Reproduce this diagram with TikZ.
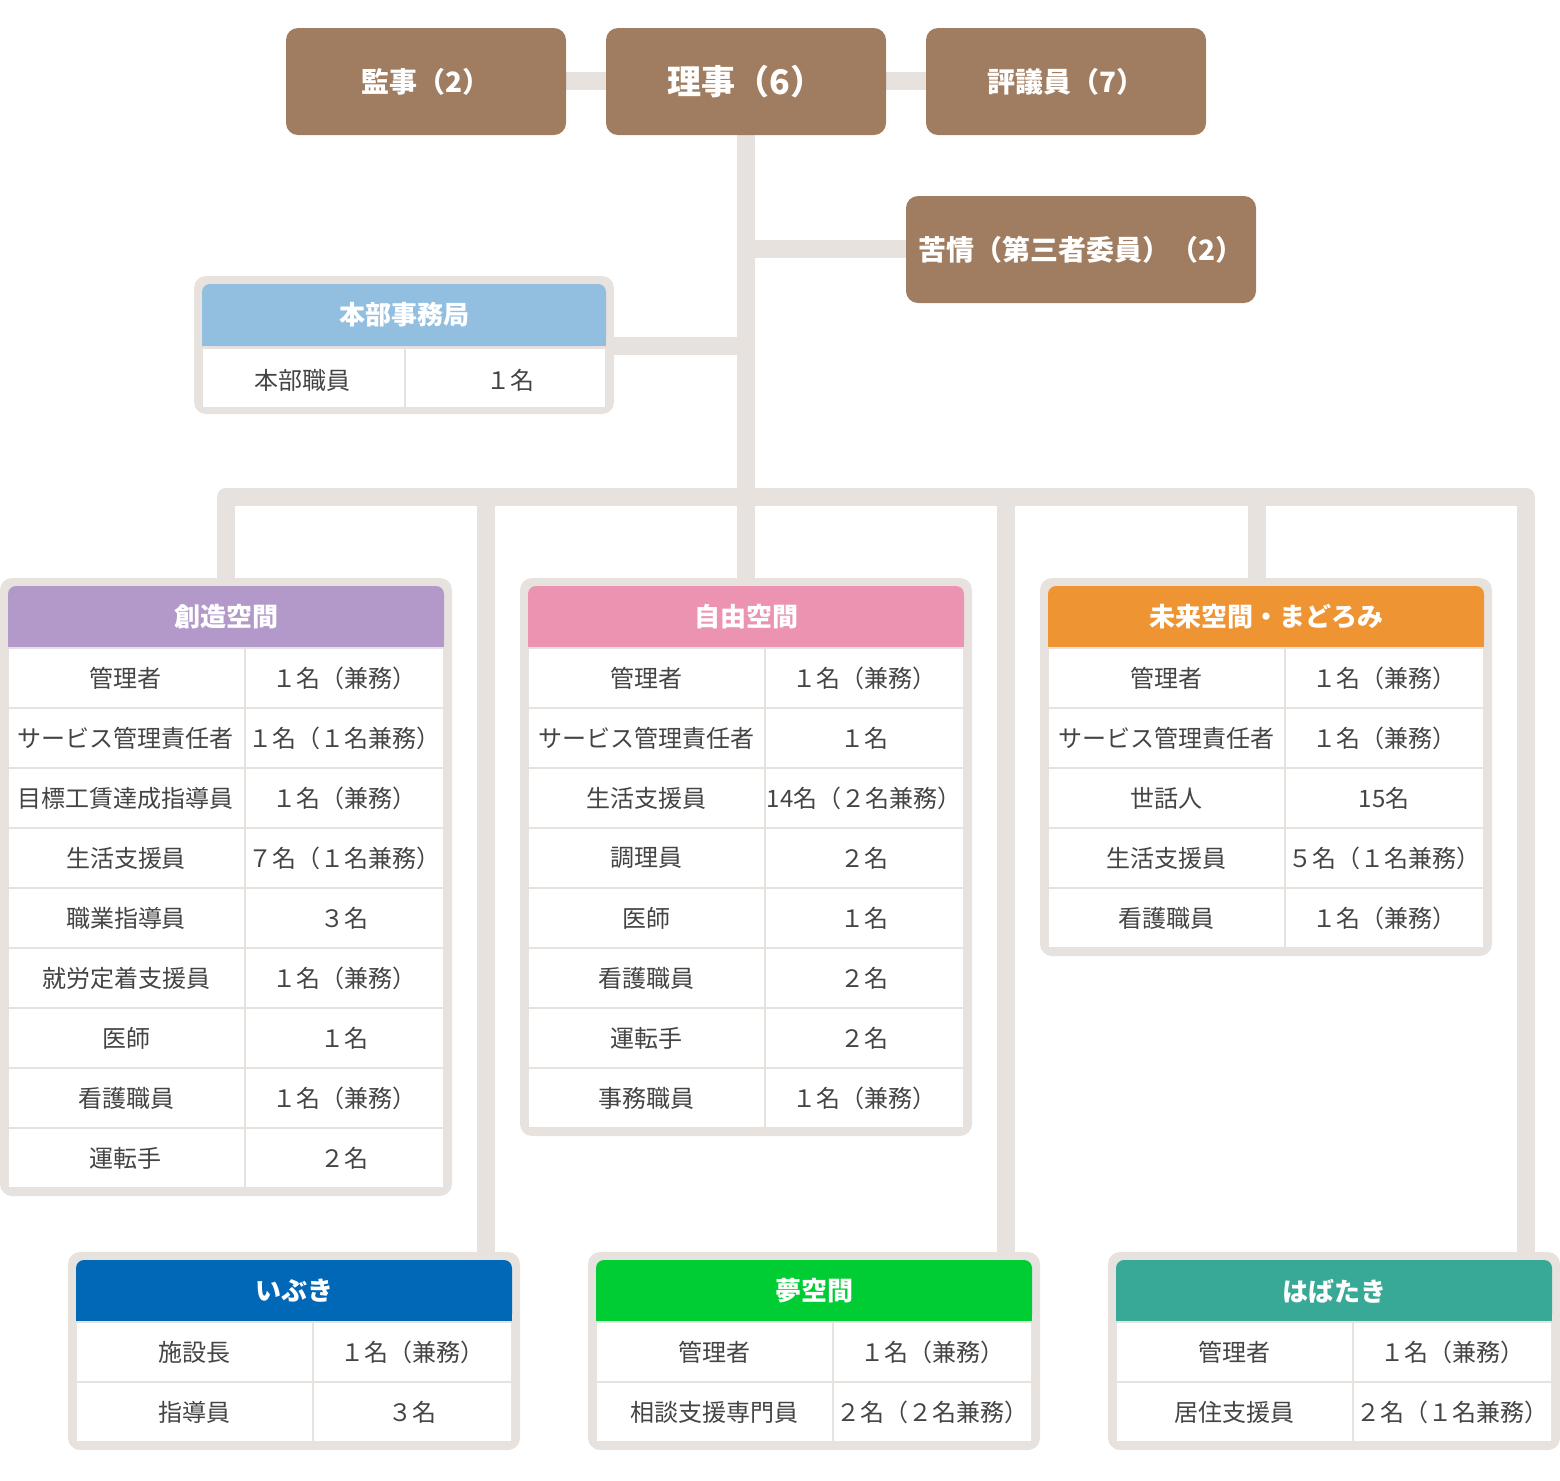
\documentclass[tikz,border=0pt]{standalone}
\usepackage{fontspec}
\setmainfont{Noto Sans CJK JP}
\usetikzlibrary{positioning}
\definecolor{brownbox}{HTML}{A07D60}
\definecolor{linegray}{HTML}{E8E2DF}
\definecolor{txt}{HTML}{444444}
\definecolor{hqblue}{HTML}{92BFE0}
\definecolor{cpurple}{HTML}{B399C9}
\definecolor{cpink}{HTML}{EB93B0}
\definecolor{corange}{HTML}{EF9432}
\definecolor{cblue}{HTML}{0068B7}
\definecolor{cgreen}{HTML}{00CC33}
\definecolor{cteal}{HTML}{38A897}
\tikzset{
  board/.style={fill=brownbox,rounded corners=6pt},
  boardtext/.style={text=white,font=\bfseries\fontsize{14}{16}\selectfont},
  link/.style={draw=linegray,line width=9pt},
  frame/.style={fill=linegray},
  cell/.style={draw=linegray,line width=1pt,fill=white},
  celltext/.style={text=txt,font=\fontsize{12}{14}\selectfont},
  headtext/.style={text=white,font=\bfseries\fontsize{13}{15}\selectfont}
}
% #1 name, #2 x, #3 y, #4 colour, #5 title, #6 rows, #7 list
\newcommand{\unitbox}[7]{%
  \fill[frame,rounded corners=6pt] (#2,#3) rectangle ++(452,{16+62+60*#6});
  \fill[#4,rounded corners=4pt] ({#2+8},{#3+8}) rectangle ++(436,62);
  \fill[#4] ({#2+8},{#3+40}) rectangle ++(436,30);
  \node[headtext] (#1) at ({#2+226},{#3+39}) {#5};
  \foreach \a/\b [count=\i] in {#7} {
    \draw[cell] ({#2+8},{#3+70+60*(\i-1)}) rectangle ++(237,60);
    \draw[cell] ({#2+245},{#3+70+60*(\i-1)}) rectangle ++(199,60);
    \node[celltext] (#1-\i a) at ({#2+126},{#3+100+60*(\i-1)}) {\a};
    \node[celltext] (#1-\i b) at ({#2+344},{#3+100+60*(\i-1)}) {\b};
  }
}
\begin{document}
\begin{tikzpicture}[x=0.5pt,y=-0.5pt]
  \useasboundingbox (0,0) rectangle (1560,1480);

  % connectors
  \coordinate (top) at (746,130);
  \coordinate (busL) at (217,497);
  \coordinate (busR) at (1526,497);
  \coordinate (busM) at (746,497);
  \draw[link] (426,81) -- (1066,81);
  \draw[link] (top) -- (busM);
  \draw[link] (busM) -- (746,249) -- (1000,249);
  \draw[link] (610,346) -- (746,346);
  \draw[link,line join=round] (226,585) -- (226,497) -- (1526,497) -- (1526,1258);
  \draw[link] (486,497) -- (486,1258);
  \draw[link] (746,497) -- (746,585);
  \draw[link] (1006,497) -- (1006,1258);
  \draw[link] (1257,497) -- (1257,585);

  % board
  \fill[board] (286,28) rectangle (566,135);
  \node[boardtext] (kanji) at (426,82) {監事（2）};
  \fill[board] (606,28) rectangle (886,135);
  \node[boardtext,font=\bfseries\fontsize{17}{19}\selectfont] (riji) at (746,82) {理事（6）};
  \fill[board] (926,28) rectangle (1206,135);
  \node[boardtext] (hyogi) at (1066,82) {評議員（7）};
  \fill[board] (906,196) rectangle (1256,303);
  \node[boardtext] (kujo) at (1081,250) {苦情（第三者委員）（2）};

  % headquarters
  \fill[frame,rounded corners=6pt] (194,276) rectangle (614,414);
  \fill[hqblue,rounded corners=4pt] (202,284) rectangle (606,346);
  \fill[hqblue] (202,316) rectangle (606,346);
  \node[headtext] (hq) at (404,315) {本部事務局};
  \draw[cell] (202,348) rectangle (405,408);
  \draw[cell] (405,348) rectangle (606,408);
  \node[celltext] (hq-a) at (302,380) {本部職員};
  \node[celltext] (hq-b) at (510,380) {１名};

  % units
  \unitbox{sozo}{0}{578}{cpurple}{創造空間}{9}{管理者/１名（兼務）,サービス管理責任者/１名（１名兼務）,目標工賃達成指導員/１名（兼務）,生活支援員/７名（１名兼務）,職業指導員/３名,就労定着支援員/１名（兼務）,医師/１名,看護職員/１名（兼務）,運転手/２名}
  \unitbox{jiyu}{520}{578}{cpink}{自由空間}{8}{管理者/１名（兼務）,サービス管理責任者/１名,生活支援員/14名（２名兼務）,調理員/２名,医師/１名,看護職員/２名,運転手/２名,事務職員/１名（兼務）}
  \unitbox{mirai}{1040}{578}{corange}{未来空間・まどろみ}{5}{管理者/１名（兼務）,サービス管理責任者/１名（兼務）,世話人/15名,生活支援員/５名（１名兼務）,看護職員/１名（兼務）}
  \unitbox{ibuki}{68}{1252}{cblue}{いぶき}{2}{施設長/１名（兼務）,指導員/３名}
  \unitbox{yume}{588}{1252}{cgreen}{夢空間}{2}{管理者/１名（兼務）,相談支援専門員/２名（２名兼務）}
  \unitbox{habataki}{1108}{1252}{cteal}{はばたき}{2}{管理者/１名（兼務）,居住支援員/２名（１名兼務）}
\end{tikzpicture}
\end{document}
